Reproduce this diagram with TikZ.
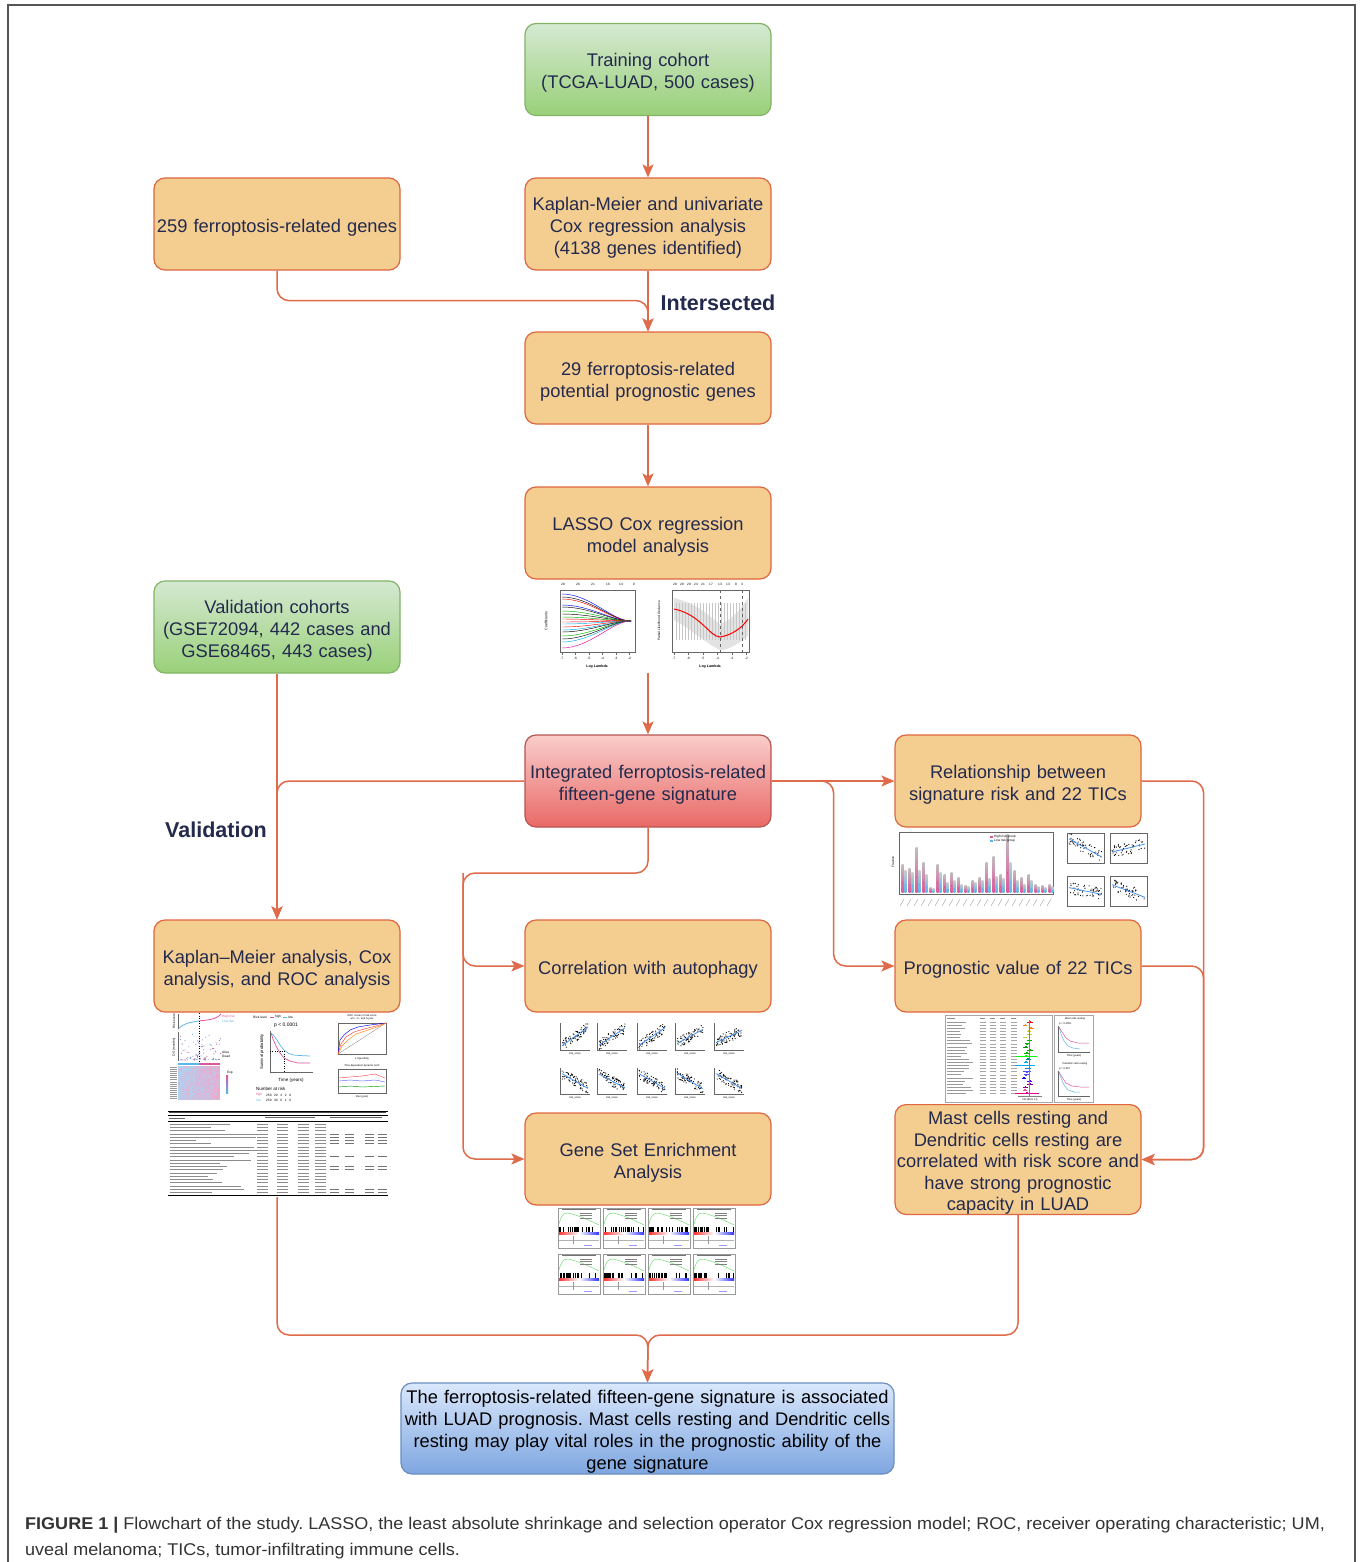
\documentclass[tikz,border=0pt]{standalone}
\usepackage{fontspec}
\setmainfont{Liberation Sans}
\newfontfamily\capfont[FakeStretch=1.06]{Liberation Sans}
\usetikzlibrary{arrows.meta}
\frenchspacing
\definecolor{ofill}{HTML}{F4CD91}
\definecolor{oline}{HTML}{E0663F}
\definecolor{gtop}{HTML}{D5E9D2}
\definecolor{gbot}{HTML}{99D078}
\definecolor{gline}{HTML}{82B366}
\definecolor{rtop}{HTML}{F9CDCB}
\definecolor{rbot}{HTML}{E96966}
\definecolor{rline}{HTML}{B85450}
\definecolor{btop}{HTML}{DAE8FC}
\definecolor{bbot}{HTML}{7EA6E0}
\definecolor{bline}{HTML}{6C8EBF}
\definecolor{cline}{HTML}{E06B4A}
\definecolor{navy}{HTML}{232A4D}
\definecolor{hpink}{HTML}{E0559A}
\definecolor{hblue}{HTML}{5BB6EA}
\definecolor{lpink}{HTML}{F2A6CB}
\definecolor{lblue}{HTML}{A9D6F3}
\definecolor{capgray}{HTML}{333333}
\definecolor{framegray}{HTML}{555555}

\newcommand\scatpts[6]{%
  \foreach \k in {1,...,#6}{%
    \pgfmathsetmacro\rt{rnd}%
    \pgfmathsetmacro\sxp{#1+2+(#3-4)*\rt}%
    \pgfmathsetmacro\sq{0.5+#5*(\rt-0.5)*0.76+0.2*rand}%
    \pgfmathsetmacro\syp{max(#2+1,min(#2+#4-1,#2+#4*(1-\sq)))}%
    \fill[black] (\sxp,\syp) circle (0.6pt);
  }%
  \draw[hblue!80!blue, line width=0.8pt] (#1+2,{#2+#4*(0.5+#5*0.38)}) -- (#1+#3-2,{#2+#4*(0.5-#5*0.38)});
}
\newcommand\gseapanel[2]{%
  \draw[black!40, line width=0.3pt] (#1,#2) rectangle ++(42,40);
  \draw[black!55, line width=0.3pt] (#1+4,#2+1.6) -- ++(34,0);
  \draw[green!75!black!55, line width=0.5pt] (#1+1,#2+16) .. controls (#1+4,#2+4) and (#1+8,#2+4) .. (#1+14,#2+6) .. controls (#1+25,#2+9) and (#1+35,#2+14) .. (#1+41,#2+17);
  \foreach \j in {0,1,2}{\draw[black!50, line width=0.3pt] (#1+22,{#2+5+\j*2.4}) -- ++(12,0);}
  \foreach \k in {1,...,24}{%
    \pgfmathsetmacro\bxp{#1+1+40*rnd^1.7}%
    \draw[black, line width=0.3pt] (\bxp,#2+19) -- (\bxp,#2+24);}
  \shade[left color=red!80, right color=blue!80, middle color=white] (#1+1,#2+24.5) rectangle (#1+41,#2+26.5);
  \draw[black!30, line width=0.3pt] (#1+1,#2+32) -- (#1+41,#2+32);
  \draw[black!40, line width=0.3pt] (#1+15,#2+28) -- (#1+15,#2+36);
  \draw[blue!40, line width=0.3pt] (#1+26,#2+37.5) -- ++(8,0);
}

\tikzset{
  base/.style={rounded corners=11pt, line width=1.2pt, minimum width=246pt,
    minimum height=92pt, align=center, text width=245pt, inner sep=0pt,
    font=\fontsize{18.3}{22}\selectfont, text=navy,
    execute at begin node={\rule{0pt}{20pt}}},
  obox/.style={base, fill=ofill, draw=oline},
  gbox/.style={base, top color=gtop, bottom color=gbot, draw=gline},
  rbox/.style={base, top color=rtop, bottom color=rbot, draw=rline},
  bbox/.style={base, top color=btop, bottom color=bbot, draw=bline, text=black},
  conn/.style={draw=cline, line width=1.5pt, rounded corners=12pt},
  arr/.style={conn, -{Stealth[length=13pt,width=11pt,inset=3pt]}},
  lab/.style={font=\bfseries\fontsize{21.5}{24}\selectfont, text=navy},
  axc/.style={draw=black!60, line width=0.35pt},
  tiny/.style={font=\fontsize{3.2}{3.6}\selectfont, inner sep=0pt},
}

\begin{document}
\begin{tikzpicture}[x=1pt,y=-1pt]
\useasboundingbox (0,0) rectangle (1360,1562);
\fill[white] (0,0) rectangle (1360,1562);
\draw[framegray, line width=1.2pt] (8,1562) -- (8,5) -- (1355,5) -- (1355,1562);

% ---------------- boxes
\node[gbox] (train) at (648,69.5) {Training cohort\\(TCGA-LUAD, 500 cases)};
\node[obox] (km1) at (648,224) {Kaplan-Meier and univariate\\Cox regression analysis\\(4138 genes identified)};
\node[obox] (g259) at (277,224) {259 ferroptosis-related genes};
\node[obox] (p29) at (648,378) {29 ferroptosis-related\\potential prognostic genes};
\node[obox] (lasso) at (648,533) {LASSO Cox regression\\model analysis};
\node[gbox] (valid) at (277,627) {Validation cohorts\\(GSE72094, 442 cases and\\GSE68465, 443 cases)};
\node[rbox] (integ) at (648,781) {Integrated ferroptosis-related\\fifteen-gene signature};
\node[obox] (rel) at (1018,781) {Relationship between\\signature risk and 22 TICs};
\node[obox] (kma) at (277,966) {Kaplan--Meier analysis, Cox\\analysis, and ROC analysis};
\node[obox] (corr) at (648,966) {Correlation with autophagy};
\node[obox] (prog) at (1018,966) {Prognostic value of 22 TICs};
\node[obox] (gsea) at (648,1159) {Gene Set Enrichment\\Analysis};
\node[obox, minimum height=109pt, font=\fontsize{18.3}{21.5}\selectfont] (mast) at (1018,1159.5) {Mast cells resting and\\Dendritic cells resting are\\correlated with risk score and\\have strong prognostic\\capacity in LUAD};
\node[bbox, minimum width=493pt, text width=492pt, minimum height=91pt] (final) at (647.5,1428.5) {The ferroptosis-related fifteen-gene signature is associated\\with LUAD prognosis. Mast cells resting and Dendritic cells\\resting may play vital roles in the prognostic ability of the\\gene signature};

% ---------------- labels
\node[lab] (intlab) at (718,303) {Intersected};
\node[lab] (vallab) at (216,830) {Validation};

% ---------------- coordinates
\coordinate (lassoimg) at (648,673);
\coordinate (lb) at (463,873);
\coordinate (botc) at (648,1335);
\coordinate (kmtab) at (277,1197);

% ---------------- connectors
\draw[arr] (train) -- (km1);
\draw[arr] (g259.south) -- ++(0,30) -| (p29.north);
\draw[arr] (km1) -- (p29);
\draw[arr] (p29) -- (lasso);
\draw[arr] (lassoimg) -- (integ.north);
\draw[arr] (valid.south) -- (kma.north);
\draw[arr] (integ.west) -| (kma.north);
\draw[arr] (integ.east) -- (rel.west);
\draw[arr] (integ.east) -- ++(62,0) |- (prog.west);
\draw[arr] (integ.south) |- (lb) |- (gsea.west);
\draw[arr] (lb) |- (corr.west);
\draw[arr] (rel.east) -- ++(62,0) |- (mast.east);
\draw[arr] (prog.east) -- ++(62,0) |- (mast.east);
\draw[arr] (mast.south) |- (botc) -- (final.north);
\draw[arr] (kmtab) |- (botc) -- (final.north);

\pgfmathsetseed{7}
% ---------------- LASSO thumbnails
\draw[axc] (560,590) rectangle (635,652);
\foreach \ya/\c in {594/blue,597/black,599/red,605/blue,607/black,611/green!70!black,614/black,617/green!70!black,619/red,622/red,624/cyan,627/red,630/cyan,632/black,636/green!70!black,639/black,642/cyan,648/magenta}
  \draw[\c, line width=0.45pt] (562,\ya) .. controls (590,\ya) and (612,621) .. (631,621);
\foreach \xx/\tl in {562/-7,575.5/-6,589/-5,602.5/-4,616/-3,629.5/-2}{
  \draw[axc] (\xx,652) -- (\xx,655);
  \node[tiny] at (\xx,658) {\tl};}
\foreach \xx/\tl in {563/28,578/26,593/21,608/16,621/14,634/0}{\node[tiny] at (\xx,584) {\tl};}
\node[tiny, font=\bfseries\fontsize{3.6}{4}\selectfont] at (597,667) {Log Lambda};
\node[tiny, rotate=90, font=\fontsize{3.6}{4}\selectfont] at (546,621) {Coefficients};

\draw[axc] (672,590) rectangle (749,652);
\fill[gray!22] (674,598) .. controls (700,604) and (710,618) .. (720,624) .. controls (732,620) and (742,608) .. (748,598) -- (748,636) .. controls (740,642) and (730,650) .. (720,650) .. controls (705,643) and (690,628) .. (674,620) -- cycle;
\foreach \xx in {676,679,...,746}{\draw[gray!45, line width=0.2pt] (\xx,603) -- (\xx,640);}
\draw[red, line width=1pt] (674,609) .. controls (700,614) and (710,637) .. (720,637) .. controls (732,635) and (742,628) .. (748,619);
\draw[black!60, dashed, line width=0.35pt] (720,590) -- (720,652);
\draw[black!60, dashed, line width=0.35pt] (742,590) -- (742,652);
\foreach \xx/\tl in {674/-7,688.5/-6,703/-5,717.5/-4,732/-3,746.5/-2}{
  \draw[axc] (\xx,652) -- (\xx,655);
  \node[tiny] at (\xx,658) {\tl};}
\foreach \xx/\tl in {675/28,682/28,689/29,696/23,703/21,711/17,720/13,728/13,736/8,742/3}{\node[tiny] at (\xx,584) {\tl};}
\node[tiny, font=\bfseries\fontsize{3.6}{4}\selectfont] at (710,667) {Log Lambda};
\node[tiny, rotate=90, font=\fontsize{3.3}{4}\selectfont] at (659,621) {Partial Likelihood Deviance};

% ---------------- Relationship thumbnails
\draw[axc] (899,832) rectangle (1053,894);
\foreach \i/\hp/\hb in {0/28/22,1/24/20,2/45/22,3/30/18,4/5/4,5/28/20,6/18/10,7/20/12,8/15/8,9/7/6,10/12/10,11/15/12,12/30/14,13/36/16,14/18/14,15/58/30,16/22/12,17/15/8,18/18/12,19/8/6,20/7/5,21/8/6}{
  \pgfmathsetmacro\gx{904+7*\i}
  \shade[bottom color=hpink, top color=black!25] (\gx-2.4,892) rectangle (\gx-0.3,892-\hp);
  \shade[bottom color=hblue, top color=black!20] (\gx+0.3,892) rectangle (\gx+2.4,892-\hb);
  \fill[hpink] (\gx-2.1,{892-0.35*\hp}) rectangle ++(1.5,2);
  \fill[hblue] (\gx+0.6,{892-0.35*\hb}) rectangle ++(1.5,2);
  \draw[black!50, line width=0.25pt] (\gx,899) -- ++(-4,7);
}
\fill[hpink] (990,836) rectangle ++(3,2);
\fill[hblue] (990,840) rectangle ++(3,2);
\node[tiny, anchor=west] at (994,837) {High risk group};
\node[tiny, anchor=west] at (994,841) {Low risk group};
\node[tiny, rotate=90] at (893,862) {Fraction};
\foreach \sx/\sy/\sl in {1067/833/-0.8,1110/833/0.35,1067/876/-0.3,1110/876/-0.55}{
  \draw[axc] (\sx,\sy) rectangle ++(37,30);
  \scatpts{\sx}{\sy}{37}{30}{\sl}{55}
}

% ---------------- KM analysis thumbnails
\draw[axc] (178,1014) -- (178,1029);
\draw[hblue, line width=0.8pt] (179,1028) .. controls (186,1022) and (194,1022) .. (199,1021);
\draw[hpink, line width=0.8pt] (199,1021) .. controls (206,1020) and (216,1020) .. (221,1014);
\draw[black, dotted, line width=0.5pt] (199,1013) -- (199,1062);
\node[tiny, anchor=west, text=hpink] at (222,1017) {High risk};
\node[tiny, anchor=west, text=hblue] at (222,1021) {Low risk};
\node[tiny, rotate=90] at (174,1021) {Risk score};
\draw[axc] (178,1032) -- (178,1061);
\foreach \k in {1,...,90}{
  \pgfmathsetmacro\rt{rnd}
  \pgfmathsetmacro\sxp{179+42*\rt}
  \pgfmathsetmacro\syp{1060-26*rnd^2}
  \pgfmathtruncatemacro\pc{100*rnd}
  \fill[color={hpink!\pc!hblue}] (\sxp,\syp) circle (0.6pt);
}
\node[tiny, anchor=west] at (222,1052) {Alive};
\node[tiny, anchor=west] at (222,1056) {Dead};
\node[tiny, rotate=90] at (174,1047) {OS (months)};
\fill[hblue] (178,1063) rectangle (199,1065);
\fill[hpink] (199,1063) rectangle (220,1065);
\foreach \r in {0,...,15}{
  \foreach \c in {0,...,19}{
    \pgfmathtruncatemacro\pc{max(0,min(100,100*(0.2+0.6*rnd+(\c-9.5)*0.025)))}
    \fill[color={lpink!\pc!lblue}] ({178+2.1*\c},{1066+2.1*\r}) rectangle ++(2.15,2.15);
  }
}
\foreach \r in {0,...,15}{\draw[black!40, line width=0.25pt] (170,{1067+2.1*\r}) -- ++(7,0);}
\shade[top color=hpink, bottom color=hblue] (226,1075) rectangle (228,1093);
\node[tiny] at (230,1073) {Exp};
\node[tiny, anchor=west] at (253,1017) {Risk level};
\draw[hpink, line width=0.4pt] (270,1017) -- ++(4,0);
\node[tiny, anchor=west] at (275,1017) {high};
\draw[hblue, line width=0.4pt] (283,1017) -- ++(4,0);
\node[tiny, anchor=west] at (288,1017) {low};
\node[anchor=west, inner sep=0pt, font=\fontsize{5}{6}\selectfont] at (274,1025) {p < 0.0001};
\draw[axc] (270,1031) -- (270,1072) -- (313,1072);
\draw[hblue, line width=0.7pt] (271,1033) -- (274,1036) -- (277,1040) -- (280,1045) -- (284,1050) -- (288,1053) -- (293,1055) -- (300,1055.5) -- (310,1056);
\draw[hpink, line width=0.7pt] (271,1033) -- (273,1039) -- (276,1046) -- (280,1053) -- (284,1058) -- (290,1061) -- (298,1063) -- (310,1063);
\draw[black, dotted, line width=0.4pt] (270,1051) -- (284,1051) -- (284,1072);
\node[tiny, rotate=90, font=\fontsize{4.2}{5}\selectfont] at (262,1052) {Survival probability};
\node[tiny, font=\fontsize{4.5}{5}\selectfont] at (291,1080) {Time (years)};
\node[tiny, anchor=west, font=\fontsize{4.5}{5}\selectfont] at (256,1089) {Number at risk};
\node[tiny, anchor=west, text=hpink] at (256,1095) {high};
\node[tiny, anchor=west] at (266,1095) {250 \ \ 20 \ \ 3 \ \ 2 \ \ 0};
\node[tiny, anchor=west, text=hblue] at (256,1100) {low};
\node[tiny, anchor=west] at (266,1100) {250 \ \ 30 \ \ 6 \ \ 1 \ \ 0};
\node[tiny, font=\fontsize{2.6}{3}\selectfont, align=center] at (362,1017) {ROC curves of risk score\\at 1-, 3-, and 5-year};
\draw[axc] (338,1023) rectangle (386,1054);
\draw[black!50, line width=0.3pt] (338,1054) -- (386,1023);
\draw[blue, line width=0.45pt] (338,1054) -- (340,1040) -- (344,1035) -- (350,1030) -- (358,1027) -- (370,1025) -- (386,1023);
\draw[red!80, line width=0.45pt] (338,1054) -- (341,1044) -- (346,1037) -- (354,1032) -- (364,1029) -- (376,1026) -- (386,1023);
\draw[orange!90!yellow, line width=0.45pt] (338,1054) -- (342,1046) -- (348,1040) -- (356,1034) -- (368,1030) -- (380,1026) -- (386,1023);
\node[tiny, font=\fontsize{2.6}{3}\selectfont] at (362,1059) {1-Specificity};
\node[tiny, font=\fontsize{2.6}{3}\selectfont] at (362,1066) {Time dependent dynamic AUC};
\draw[axc] (338,1069) rectangle (386,1093);
\draw[red!70, line width=0.45pt] (339,1078) -- (350,1077) -- (362,1076) -- (375,1074) -- (385,1078);
\draw[blue!60, line width=0.45pt] (339,1081) -- (350,1080) -- (362,1081) -- (375,1080) -- (385,1082);
\draw[green!60!black, line width=0.45pt] (339,1087) -- (350,1086) -- (362,1087) -- (385,1086);
\node[tiny, font=\fontsize{2.6}{3}\selectfont] at (362,1097) {time (year)};
% table
\draw[black, line width=0.3pt] (168,1111) -- (388,1111);
\draw[black!70, line width=0.9pt] (169,1112.8) -- (386,1112.8);
\draw[black, line width=0.3pt] (168,1115) -- (388,1115);
\draw[black!60, line width=0.4pt] (169,1118) -- (185,1118);
\draw[black!60, line width=0.4pt] (265,1117) -- (315,1117);
\draw[black!60, line width=0.4pt] (330,1117) -- (382,1117);
\draw[black, line width=0.3pt] (168,1121) -- (388,1121);
\foreach \r in {0,...,21}{
  \pgfmathsetmacro\ty{1124+3.25*\r}
  \pgfmathsetmacro\tl{25+70*rnd}
  \draw[black!45, line width=0.5pt] (170,\ty) -- ++(\tl,0);
  \foreach \cx in {257,277,298,315}{\draw[black!45, line width=0.5pt] (\cx,\ty) -- ++(11,0);}
}
\foreach \r in {3,4,5,6,10,13,14,20,21}{
  \pgfmathsetmacro\ty{1124+3.25*\r}
  \foreach \cx in {330,345,365,378}{\draw[black!55, line width=0.5pt] (\cx,\ty) -- ++(9,0);}
}
\draw[black, line width=0.3pt] (168,1195) -- (388,1195);

% ---------------- Correlation thumbnails
\foreach \cx/\sl in {560/0.9,597/0.85,637/0.85,675/0.7,714/0.6}{
  \draw[axc] (\cx,1023) -- (\cx,1050) -- (\cx+30,1050);
  \scatpts{\cx}{1023}{30}{27}{\sl}{70}
  \node[tiny, font=\fontsize{2.6}{3}\selectfont] at (\cx+15,1054) {risk\_score};
}
\foreach \cx/\sl in {560/-0.75,597/-0.7,637/-0.75,675/-0.8,714/-0.75}{
  \draw[axc] (\cx,1068) -- (\cx,1094) -- (\cx+30,1094);
  \scatpts{\cx}{1068}{30}{26}{\sl}{70}
  \node[tiny, font=\fontsize{2.6}{3}\selectfont] at (\cx+15,1098) {risk\_score};
}

% ---------------- Prognostic thumbnails
\draw[black!35, line width=0.35pt] (945,1015) rectangle (1052,1102);
\foreach \r/\len/\col in {0/6/red,1/4/orange,2/5/orange,3/4/yellow!80!black,4/5/yellow!80!black,5/4/yellow!70!green,6/5/green!70!black,7/4/green!70!black,8/5/green!60!black,9/6/green!60!black,10/5/green!70!black,11/22/green,12/5/teal,13/4/cyan,14/20/cyan,15/6/cyan!60!blue,16/8/blue!70,17/5/blue!70,18/4/blue,19/5/blue!70!magenta,20/6/violet,21/5/violet,22/4/magenta!70,23/24/magenta}{
  \pgfmathsetmacro\fy{1022+3.1*\r}
  \pgfmathsetmacro\fx{1028+4*rand}
  \pgfmathsetmacro\tl{12+15*rnd}
  \draw[black!40, line width=0.45pt] (947,\fy) -- ++(\tl,0);
  \foreach \cx in {980,990,1000,1011}{\draw[black!35, line width=0.4pt] (\cx,\fy) -- ++(6,0);}
  \draw[\col, line width=0.5pt] (\fx-\len/2,\fy) -- (\fx+\len/2,\fy);
  \fill[\col] (\fx-0.9,\fy-0.9) rectangle ++(1.8,1.8);
}
\draw[black!45, line width=0.4pt] (947,1018.5) -- ++(8,0);
\foreach \cx in {980,990,1000,1011}{\draw[black!45, line width=0.4pt] (\cx,1018.5) -- ++(5,0);}
\draw[black!50, line width=0.3pt] (1029,1020) -- (1029,1096);
\draw[black!50, line width=0.3pt] (1018,1096) -- (1042,1096);
\node[tiny, font=\fontsize{2.6}{3}\selectfont] at (1030,1099.5) {HR (95\% CI)};
\draw[black!35, line width=0.35pt] (1054,1015) rectangle (1093,1102);
\node[tiny, font=\fontsize{2.6}{3}\selectfont] at (1075,1019) {Mast cells resting};
\node[tiny, font=\fontsize{2.6}{3}\selectfont, anchor=west] at (1059,1024) {p = 0.0001};
\draw[axc] (1058,1026) -- (1058,1052) -- (1090,1052);
\draw[hpink, line width=0.5pt] (1059,1027) -- (1062,1032) -- (1066,1038) -- (1070,1041) -- (1078,1043) -- (1089,1043);
\draw[hblue, line width=0.5pt] (1059,1027) -- (1061,1034) -- (1064,1041) -- (1068,1046) -- (1073,1048) -- (1080,1049);
\node[tiny, font=\fontsize{2.6}{3}\selectfont] at (1074,1056) {Time (years)};
\node[tiny, font=\fontsize{2.6}{3}\selectfont] at (1075,1064) {Dendritic cells resting};
\node[tiny, font=\fontsize{2.6}{3}\selectfont, anchor=west] at (1059,1069) {p = 0.007};
\draw[axc] (1058,1071) -- (1058,1096) -- (1090,1096);
\draw[hpink, line width=0.5pt] (1059,1072) -- (1062,1077) -- (1066,1083) -- (1072,1086) -- (1080,1087) -- (1089,1087);
\draw[hblue, line width=0.5pt] (1059,1072) -- (1061,1078) -- (1064,1085) -- (1068,1090) -- (1074,1092) -- (1080,1092);
\node[tiny, font=\fontsize{2.6}{3}\selectfont] at (1074,1099.5) {Time (years)};

% ---------------- GSEA thumbnails
\foreach \gx in {558,603,648,693}{
  \gseapanel{\gx}{1208}
  \gseapanel{\gx}{1254}
}

% ---------------- caption
\node[anchor=north west, align=left, inner sep=0pt, text=capgray,
  font=\capfont\fontsize{17}{26}\selectfont] (cap) at (25,1517)
  {\textbf{FIGURE 1} \textbf{|} Flowchart of the study. LASSO, the least absolute shrinkage and selection operator Cox regression model; ROC, receiver operating characteristic; UM,\\uveal melanoma; TICs, tumor-infiltrating immune cells.};
\end{tikzpicture}
\end{document}
